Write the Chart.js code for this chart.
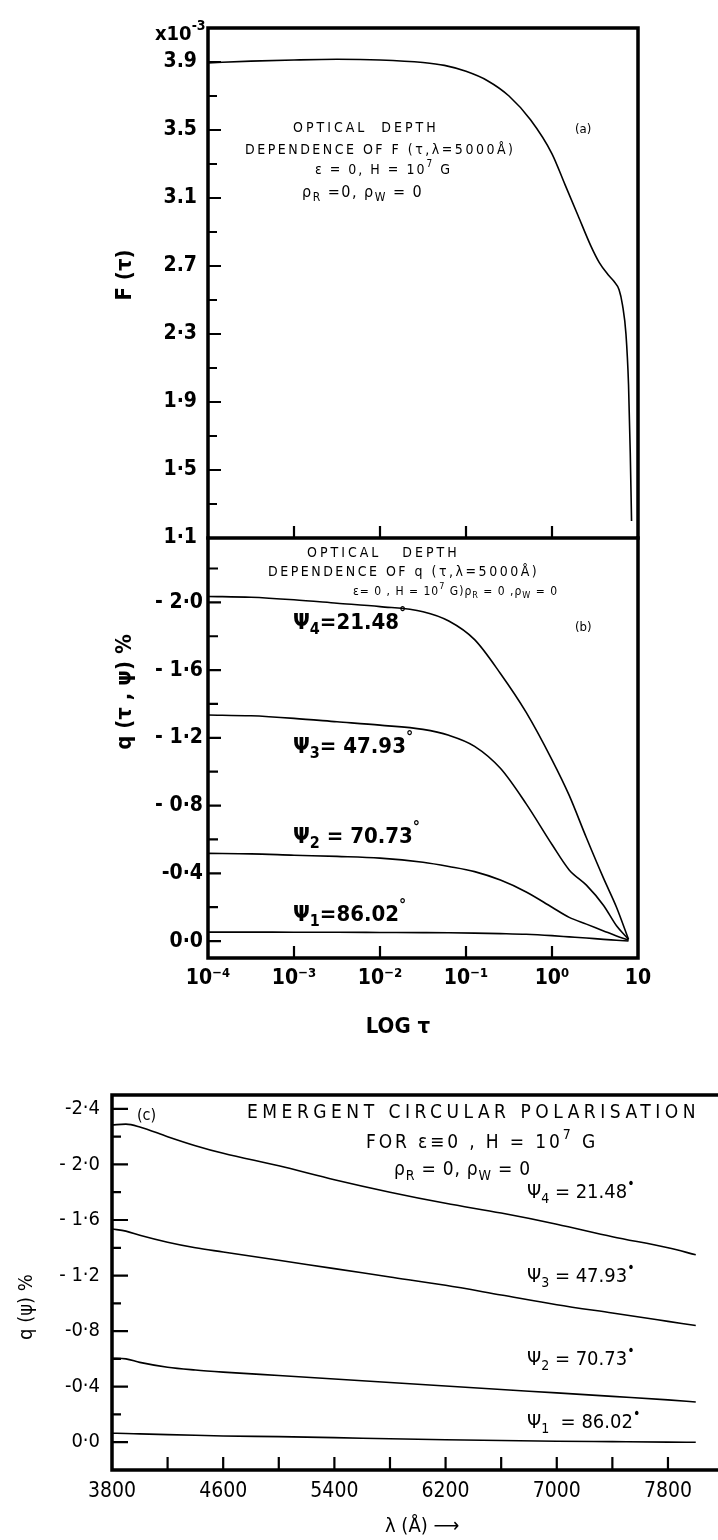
<!DOCTYPE html>
<html lang="en">
<head>
<meta charset="UTF-8" />
<title>Optical depth dependence of F and q</title>
<script src="https://cdn.jsdelivr.net/npm/chart.js"></script>
<style>
  body { margin: 0; background: #fff; }
  #wrap { position: relative; width: 718px; height: 1540px; overflow: hidden; }
  canvas { position: absolute; left: 0; top: 0; }
</style>
</head>
<body>
<div id="wrap">
  <canvas id="chartA" width="718" height="1540"></canvas>
  <canvas id="chartB" width="718" height="1540"></canvas>
  <canvas id="chartC" width="718" height="1540"></canvas>
</div>
<script>
// ---- panel (a): F(tau) vs log tau ----
const aLogTau = [-4, -3.5, -3, -2.5, -2, -1.5, -1.25, -1, -0.75, -0.5, -0.25, 0, 0.15, 0.3, 0.45, 0.55, 0.65, 0.72, 0.78, 0.82, 0.86, 0.89, 0.91, 0.925];
const aF = [3.895, 3.905, 3.912, 3.916, 3.912, 3.897, 3.88, 3.845, 3.79, 3.70, 3.56, 3.36, 3.18, 3.0, 2.82, 2.72, 2.65, 2.61, 2.56, 2.47, 2.3, 2.0, 1.6, 1.2];
const aYTickVals = [1.1, 1.5, 1.9, 2.3, 2.7, 3.1, 3.5, 3.9];
const aYTickText = ['1·1', '1·5', '1·9', '2·3', '2.7', '3.1', '3.5', '3.9'];

// ---- panel (b): q(tau, psi) vs log tau ----
const bLogTau = [-4, -3.5, -3, -2.5, -2, -1.5, -1.2, -0.9, -0.6, -0.3, 0, 0.2, 0.4, 0.6, 0.75, 0.89];
const bPsi4 = [-2.035, -2.03, -2.015, -1.995, -1.975, -1.945, -1.89, -1.78, -1.58, -1.35, -1.07, -0.86, -0.61, -0.37, -0.2, -0.01];
const bPsi3 = [-1.335, -1.33, -1.315, -1.295, -1.275, -1.25, -1.215, -1.15, -1.02, -0.81, -0.57, -0.42, -0.33, -0.21, -0.09, -0.01];
const bPsi2 = [-0.518, -0.515, -0.507, -0.5, -0.49, -0.465, -0.44, -0.41, -0.36, -0.29, -0.2, -0.14, -0.1, -0.06, -0.03, -0.005];
const bPsi1 = [-0.053, -0.053, -0.052, -0.052, -0.051, -0.05, -0.049, -0.047, -0.044, -0.04, -0.032, -0.025, -0.018, -0.01, -0.005, 0];
const bYTickVals = [-2.0, -1.6, -1.2, -0.8, -0.4, 0.0];
const bYTickText = ['- 2·0', '- 1·6', '- 1·2', '- 0·8', '-0·4', '0·0'];
const bXTickVals = [-4, -3, -2, -1, 0, 1];
const bXTickText = ['10⁻⁴', '10⁻³', '10⁻²', '10⁻¹', '10⁰', '10'];

// ---- panel (c): q(psi) vs wavelength ----
const cLambda = [3800, 3900, 4000, 4200, 4400, 4600, 5000, 5400, 5800, 6200, 6600, 7000, 7400, 7800, 8000];
const cPsi4 = [-2.285, -2.29, -2.27, -2.2, -2.135, -2.08, -1.99, -1.89, -1.8, -1.72, -1.65, -1.57, -1.48, -1.4, -1.35];
const cPsi3 = [-1.535, -1.52, -1.49, -1.44, -1.4, -1.37, -1.31, -1.25, -1.19, -1.13, -1.06, -0.99, -0.93, -0.87, -0.84];
const cPsi2 = [-0.605, -0.6, -0.575, -0.54, -0.52, -0.505, -0.48, -0.455, -0.43, -0.405, -0.38, -0.355, -0.33, -0.305, -0.29];
const cPsi1 = [-0.065, -0.063, -0.06, -0.055, -0.05, -0.045, -0.04, -0.033, -0.025, -0.018, -0.012, -0.007, -0.004, -0.001, 0];
const cYTickVals = [-2.4, -2.0, -1.6, -1.2, -0.8, -0.4, 0.0];
const cYTickText = ['-2·4', '- 2·0', '- 1·6', '- 1·2', '-0·8', '-0·4', '0·0'];
const cXTickVals = [3800, 4600, 5400, 6200, 7000, 7800];
const cXTickText = ['3800', '4600', '5400', '6200', '7000', '7800'];

const W = 718, H = 1540;
const FONT = '"DejaVu Sans Condensed", "DejaVu Sans", sans-serif';

// draws text with _sub and ^sup pieces
function richText(ctx, x, y, parts, size, weight, align, spacing, fit) {
  ctx.save();
  ctx.textBaseline = 'middle';
  ctx.textAlign = 'left';
  const segs = parts.map(p => {
    let mode = 0, t = p;
    if (p.length > 1 && p[0] === '_') { mode = 1; t = p.slice(1); }
    else if (p.length > 1 && p[0] === '^') { mode = 2; t = p.slice(1); }
    return { t, mode, fs: mode ? Math.round(size * 0.72) : size };
  });
  const measure = (sp) => {
    if ('letterSpacing' in ctx) ctx.letterSpacing = sp + 'px';
    let tot = 0;
    segs.forEach(g => { ctx.font = `${weight} ${g.fs}px ${FONT}`; g.w = ctx.measureText(g.t).width; tot += g.w; });
    return tot;
  };
  let sp = spacing || 0;
  let total = measure(sp);
  if (fit) {
    const n = segs.reduce((s, g) => s + [...g.t].length, 0);
    sp = sp + (fit - total) / n;
    total = measure(sp);
  }
  let cx = align === 'center' ? x - total / 2 : align === 'right' ? x - total : x;
  segs.forEach(g => {
    ctx.font = `${weight} ${g.fs}px ${FONT}`;
    const dy = g.mode === 1 ? size * 0.32 : g.mode === 2 ? -size * 0.42 : 0;
    ctx.fillText(g.t, cx, y + dy);
    cx += g.w;
  });
  ctx.restore();
}

// frame, inward ticks and text notes for one panel
function framePlugin(cfg) {
  return {
    id: 'frame',
    afterDraw(chart) {
      const { ctx, chartArea: a, scales: { x, y } } = chart;
      ctx.save();
      ctx.strokeStyle = '#000';
      ctx.fillStyle = '#000';
      ctx.lineWidth = cfg.lw;
      ctx.lineCap = 'square';
      ctx.beginPath();
      if (cfg.sides.includes('left')) { ctx.moveTo(a.left, a.top); ctx.lineTo(a.left, a.bottom); }
      if (cfg.sides.includes('right')) { ctx.moveTo(a.right, a.top); ctx.lineTo(a.right, a.bottom); }
      if (cfg.sides.includes('top')) { ctx.moveTo(a.left, a.top); ctx.lineTo(a.right, a.top); }
      if (cfg.sides.includes('bottom')) { ctx.moveTo(a.left, a.bottom); ctx.lineTo(a.right, a.bottom); }
      ctx.stroke();
      ctx.lineWidth = 2.2;
      ctx.lineCap = 'butt';
      ctx.beginPath();
      (cfg.yMajor || []).forEach(v => { const p = y.getPixelForValue(v); ctx.moveTo(a.left, p); ctx.lineTo(a.left + cfg.yLen[0], p); });
      (cfg.yMinor || []).forEach(v => { const p = y.getPixelForValue(v); ctx.moveTo(a.left, p); ctx.lineTo(a.left + cfg.yLen[1], p); });
      (cfg.xMajor || []).forEach(v => { const p = x.getPixelForValue(v); ctx.moveTo(p, a.bottom); ctx.lineTo(p, a.bottom - cfg.xLen); });
      ctx.stroke();
      (cfg.notes || []).forEach(n => {
        if (n.rot) {
          ctx.save();
          ctx.translate(n.x, n.y);
          ctx.rotate(-Math.PI / 2);
          richText(ctx, 0, 0, n.parts, n.size, n.weight || 'normal', 'center', n.sp || 0);
          ctx.restore();
        } else {
          richText(ctx, n.x, n.y, n.parts, n.size, n.weight || 'normal', n.align || 'left', n.sp || 0, n.fit);
        }
      });
      ctx.restore();
    }
  };
}

function line(xs, ys) {
  return {
    data: xs.map((v, i) => ({ x: v, y: ys[i] })),
    borderColor: '#000',
    borderWidth: 1.6,
    pointRadius: 0,
    fill: false,
    cubicInterpolationMode: 'monotone'
  };
}

function makePanel(id, area, xs, ys, datasets, frame) {
  return new Chart(document.getElementById(id), {
    type: 'line',
    data: { datasets },
    options: {
      responsive: false,
      animation: false,
      devicePixelRatio: 1,
      layout: { padding: { left: 0, top: area.top, right: W - area.right, bottom: 0 } },
      plugins: { legend: { display: false }, tooltip: { enabled: false } },
      scales: {
        x: Object.assign({
          type: 'linear',
          grid: { display: false, drawTicks: false },
          border: { display: false },
          afterFit: s => { s.height = H - area.bottom; }
        }, xs),
        y: Object.assign({
          type: 'linear',
          grid: { display: false, drawTicks: false },
          border: { display: false },
          afterFit: s => { s.width = area.left; }
        }, ys)
      }
    },
    plugins: [framePlugin(frame)]
  });
}

const tickFontBold = { family: FONT, size: 21, weight: 'bold' };

// (a)
makePanel('chartA', { left: 208, top: 28, right: 638, bottom: 538 },
  { min: -4, max: 1, ticks: { display: false } },
  {
    min: 1.1, max: 4.1,
    afterBuildTicks: s => { s.ticks = aYTickVals.map(v => ({ value: v })); },
    ticks: { color: '#000', font: tickFontBold, padding: 11, callback: (v, i) => aYTickText[i] }
  },
  [line(aLogTau, aF)],
  {
    lw: 3.5, sides: ['left', 'top', 'right', 'bottom'],
    yMajor: aYTickVals, yMinor: [1.3, 1.7, 2.1, 2.5, 2.9, 3.3, 3.7], yLen: [13, 9],
    xMajor: [-3, -2, -1, 0], xLen: 12,
    notes: [
      { x: 155, y: 35, parts: ['x10', '^-3'], size: 20, weight: 'bold' },
      { x: 125, y: 275, parts: ['F (τ)'], size: 22, weight: 'bold', rot: true },
      { x: 293, y: 128, parts: ['OPTICAL  DEPTH'], size: 14, sp: 3 },
      { x: 245, y: 150, parts: ['DEPENDENCE OF F (τ,λ=5000Å)'], size: 14, sp: 2.5 },
      { x: 315, y: 170, parts: ['ε = 0, H = 10', '^7', ' G'], size: 14, sp: 2 },
      { x: 302, y: 193, parts: ['ρ', '_R', ' =0, ', 'ρ', '_W', ' = 0'], size: 16, sp: 1.5 },
      { x: 575, y: 130, parts: ['(a)'], size: 13 }
    ]
  });

// (b)
makePanel('chartB', { left: 208, top: 538, right: 638, bottom: 958 },
  {
    min: -4, max: 1,
    afterBuildTicks: s => { s.ticks = bXTickVals.map(v => ({ value: v })); },
    ticks: { color: '#000', font: tickFontBold, padding: 8, maxRotation: 0, callback: (v, i) => bXTickText[i] }
  },
  {
    min: -2.38, max: 0.1, reverse: true,
    afterBuildTicks: s => { s.ticks = bYTickVals.map(v => ({ value: v })); },
    ticks: { color: '#000', font: tickFontBold, padding: 5, callback: (v, i) => bYTickText[i] }
  },
  [line(bLogTau, bPsi4), line(bLogTau, bPsi3), line(bLogTau, bPsi2), line(bLogTau, bPsi1)],
  {
    lw: 3.5, sides: ['left', 'right', 'bottom'],
    yMajor: bYTickVals, yMinor: [-2.2, -1.8, -1.4, -1.0, -0.6, -0.2], yLen: [13, 10],
    xMajor: [-3, -2, -1, 0], xLen: 12,
    notes: [
      { x: 125, y: 692, parts: ['q (τ , ψ) %'], size: 22, weight: 'bold', rot: true },
      { x: 398, y: 1027, parts: ['LOG τ'], size: 22, weight: 'bold', align: 'center' },
      { x: 307, y: 553, parts: ['OPTICAL   DEPTH'], size: 14, sp: 3 },
      { x: 268, y: 572, parts: ['DEPENDENCE OF q (τ,λ=5000Å)'], size: 14, sp: 2.5 },
      { x: 353, y: 592, parts: ['ε= 0 , H = 10', '^7', ' G)', 'ρ', '_R', ' = 0 ,', 'ρ', '_W', ' = 0'], size: 12, sp: 1 },
      { x: 575, y: 628, parts: ['(b)'], size: 13 },
      { x: 293, y: 623, parts: ['Ψ', '_4', '=21.48', '^°'], size: 22, weight: 'bold' },
      { x: 293, y: 747, parts: ['Ψ', '_3', '= 47.93', '^°'], size: 22, weight: 'bold' },
      { x: 293, y: 837, parts: ['Ψ', '_2', ' = 70.73', '^°'], size: 22, weight: 'bold' },
      { x: 293, y: 915, parts: ['Ψ', '_1', '=86.02', '^°'], size: 22, weight: 'bold' }
    ]
  });

// (c)
makePanel('chartC', { left: 112, top: 1095, right: 718, bottom: 1470 },
  {
    min: 3800, max: 8160,
    afterBuildTicks: s => { s.ticks = cXTickVals.map(v => ({ value: v })); },
    ticks: { color: '#000', font: { family: FONT, size: 21 }, padding: 9, maxRotation: 0, callback: (v, i) => cXTickText[i] }
  },
  {
    min: -2.5, max: 0.2, reverse: true,
    afterBuildTicks: s => { s.ticks = cYTickVals.map(v => ({ value: v })); },
    ticks: { color: '#000', font: { family: FONT, size: 20 }, padding: 12, callback: (v, i) => cYTickText[i] }
  },
  [line(cLambda, cPsi4), line(cLambda, cPsi3), line(cLambda, cPsi2), line(cLambda, cPsi1)],
  {
    lw: 3.5, sides: ['left', 'top', 'bottom'],
    yMajor: cYTickVals, yMinor: [-2.2, -1.8, -1.4, -1.0, -0.6, -0.2], yLen: [16, 9],
    xMajor: [4200, 4600, 5000, 5400, 5800, 6200, 6600, 7000, 7400, 7800], xLen: 13,
    notes: [
      { x: 27, y: 1307, parts: ['q (ψ) %'], size: 20, rot: true },
      { x: 385, y: 1527, parts: ['λ (Å) ⟶'], size: 20 },
      { x: 137, y: 1116, parts: ['(c)'], size: 16 },
      { x: 247, y: 1113, parts: ['EMERGENT CIRCULAR POLARISATION'], size: 19, fit: 453 },
      { x: 366, y: 1143, parts: ['FOR ε≡0 , H = 10', '^7', ' G'], size: 19, fit: 232 },
      { x: 394, y: 1170, parts: ['ρ', '_R', ' = 0, ', 'ρ', '_W', ' = 0'], size: 19, fit: 137 },
      { x: 527, y: 1193, parts: ['Ψ', '_4', ' = 21.48', '^•'], size: 20 },
      { x: 527, y: 1277, parts: ['Ψ', '_3', ' = 47.93', '^•'], size: 20 },
      { x: 527, y: 1360, parts: ['Ψ', '_2', ' = 70.73', '^•'], size: 20 },
      { x: 527, y: 1423, parts: ['Ψ', '_1', '  = 86.02', '^•'], size: 20 }
    ]
  });
</script>
</body>
</html>
